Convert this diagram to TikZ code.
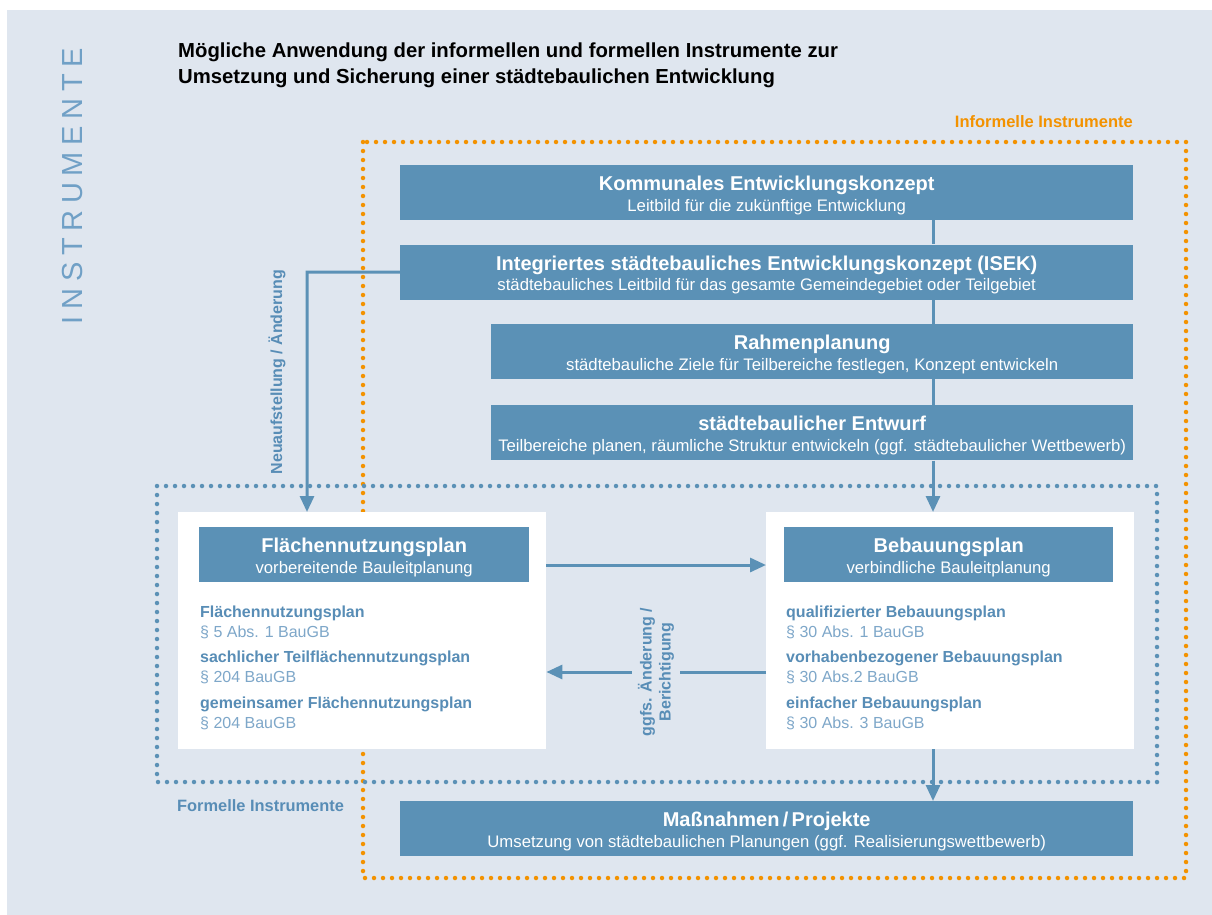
\documentclass[tikz,border=0pt]{standalone}
\usepackage{fontspec}
\setmainfont{Liberation Sans}
\usepackage{tikz}
\usetikzlibrary{positioning}
\usetikzlibrary{arrows.meta}
\definecolor{bgblue}{RGB}{223,230,239}
\definecolor{boxblue}{RGB}{91,145,182}
\definecolor{txtblue}{RGB}{88,141,182}
\definecolor{parblue}{RGB}{126,167,201}
\definecolor{instblue}{RGB}{112,160,198}
\definecolor{infoorange}{RGB}{243,146,0}
\tikzstyle{block} = [rectangle, fill=boxblue, text=white, align=center, inner sep=0pt,
minimum height=55pt, text height=46pt, text depth=9pt, anchor=north west,
font=\fontsize{16.7}{20.5}\selectfont]
\tikzstyle{panel} = [rectangle, fill=white, minimum width=368pt, minimum height=237pt,
inner sep=0pt, anchor=north west]
\tikzstyle{entries} = [align=left, inner sep=0pt, anchor=north west, text=txtblue,
font=\fontsize{16}{20}\selectfont]
\tikzstyle{line} = [draw=boxblue, line width=3pt, -{Triangle[length=16pt,width=14pt]}]
\tikzstyle{link} = [draw=boxblue, line width=3pt]
\tikzstyle{dots} = [line width=4.5pt, line cap=round, dash pattern=on 0pt off 9pt]
\newcommand{\hd}[1]{{\fontsize{20}{20.5}\selectfont\bfseries #1}}
\newcommand{\para}[1]{{\color{parblue}#1}}

\begin{document}
\begin{tikzpicture}[x=1pt, y=-1pt]
\useasboundingbox (0,0) rectangle (1212,915);
\fill [bgblue] (7,10) rectangle (1212,915);

    % frames
\draw [dots, infoorange] (363,142) rectangle (1186,878);
\draw [dots, boxblue] (157,486) rectangle (1157,782);

    % titles
\node [rotate=90, text=instblue, font=\fontsize{29}{30}\selectfont\addfontfeature{LetterSpace=23}] (inst) at (73,186) {INSTRUMENTE};
\node [anchor=north west, align=left, inner sep=0pt, font=\fontsize{20.3}{26}\selectfont\bfseries] (title) at (178,43) {Mögliche Anwendung der informellen und formellen Instrumente zur\\Umsetzung und Sicherung einer städtebaulichen Entwicklung};
\node [anchor=east, inner sep=0pt, text=infoorange, font=\fontsize{16.5}{18}\selectfont\bfseries] (informell) at (1133,122) {Informelle Instrumente};
\node [anchor=west, inner sep=0pt, text=txtblue, font=\fontsize{16.4}{18}\selectfont\bfseries] (formell) at (177,806) {Formelle Instrumente};

    % nodes
\node [block, minimum width=733pt] (kek) at (400,165) {\hd{Kommunales Entwicklungskonzept}\\Leitbild für die zukünftige Entwicklung};
\node [block, minimum width=733pt, below=24pt of kek.south west, anchor=north west] (isek) {\hd{Integriertes städtebauliches Entwicklungskonzept (ISEK)}\\städtebauliches Leitbild für das gesamte Gemeindegebiet oder Teilgebiet};
\node [block, minimum width=642pt, below right=24pt and 91pt of isek.south west, anchor=north west] (rp) {\hd{Rahmenplanung}\\städtebauliche Ziele für Teilbereiche festlegen, Konzept entwickeln};
\node [block, minimum width=642pt, below=26pt of rp.south west, anchor=north west] (se) {\hd{städtebaulicher Entwurf}\\Teilbereiche planen, räumliche Struktur entwickeln (ggf. städtebaulicher Wettbewerb)};

\node [panel] (fnpp) at (178,512) {};
\node [panel] (bpp) at (766,512) {};
\node [block, minimum width=330pt] (fnp) at (199,527) {\hd{Flächennutzungsplan}\\vorbereitende Bauleitplanung};
\node [block, minimum width=329pt] (bp) at (784,527) {\hd{Bebauungsplan}\\verbindliche Bauleitplanung};

\node [entries] (fnplist) at (200,606) {\textbf{Flächennutzungsplan}\\\para{§ 5 Abs. 1 BauGB}\\[5pt]\textbf{sachlicher Teilflächennutzungsplan}\\\para{§ 204 BauGB}\\[6pt]\textbf{gemeinsamer Flächennutzungsplan}\\\para{§ 204 BauGB}};
\node [entries] (bplist) at (786,606) {\textbf{qualifizierter Bebauungsplan}\\\para{§ 30 Abs. 1 BauGB}\\[5pt]\textbf{vorhabenbezogener Bebauungsplan}\\\para{§ 30 Abs.2 BauGB}\\[6pt]\textbf{einfacher Bebauungsplan}\\\para{§ 30 Abs. 3 BauGB}};

\node [block, minimum width=733pt] (mp) at (400,801) {\hd{Maßnahmen\,/\,Projekte}\\Umsetzung von städtebaulichen Planungen (ggf. Realisierungswettbewerb)};

\node [rotate=90, text=txtblue, font=\fontsize{16}{18}\selectfont\bfseries] (neu) at (277,372) {Neuaufstellung / Änderung};
\node [rotate=90, align=center, inner sep=6pt, text=txtblue, font=\fontsize{16}{19}\selectfont\bfseries] (ggfs) at (656,672) {ggfs. Änderung /\\Berichtigung};

\coordinate (axis) at (933,0);
\coordinate (bend) at (307,272);
\coordinate (cross) at (0,565);

%edges
\path [link] (kek.south -| axis) -- (isek.north -| axis);
\path [link] (isek.south -| axis) -- (rp.north -| axis);
\path [link] (rp.south -| axis) -- (se.north -| axis);
\path [line] (se.south -| axis) -- (bpp.north -| axis);
\path [line] (bpp.south -| axis) -- (mp.north -| axis);
\path [line] (isek.west) -- (bend) -- (bend |- fnpp.north);
\path [line] (fnpp.east |- cross) -- (bpp.west |- cross);
\path [link] (bpp.west |- ggfs) -- (ggfs.south);
\path [line] (ggfs.north) -- (fnpp.east |- ggfs);

\end{tikzpicture}
\end{document}
